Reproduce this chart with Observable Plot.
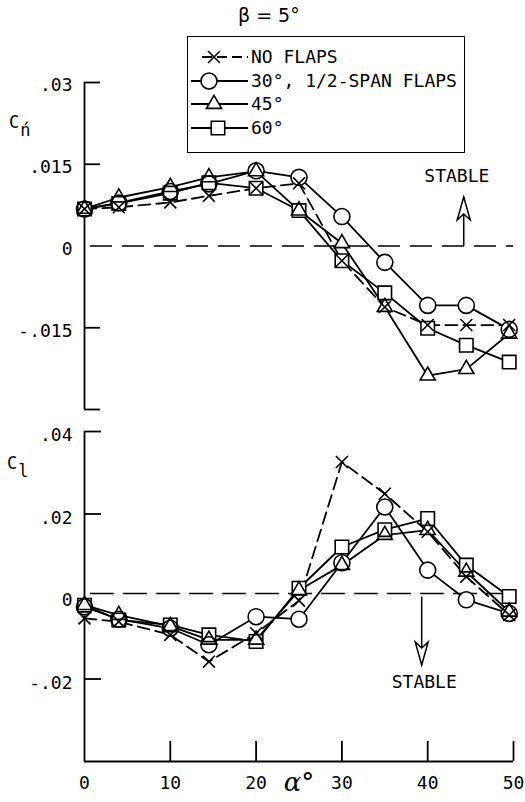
<!DOCTYPE html>
<html>
<head>
<meta charset="utf-8">
<script src="https://cdn.jsdelivr.net/npm/d3@7"></script>
<script src="https://cdn.jsdelivr.net/npm/@observablehq/plot@0.6"></script>
<style>
  body { margin: 0; background: #fff; }
  #fig { position: relative; width: 525px; height: 802px; background: #fff; color: #000;
         font-family: "DejaVu Sans Mono", monospace; }
  #fig > .panel { position: absolute; left: 0; }
  .legend { position: absolute; left: 187px; top: 36px; width: 276px; height: 115px;
            border: 1.6px solid #000; background: #fff; }
  .legend .row { position: absolute; left: 0; height: 22px; display: flex; align-items: center; }
  .legend .row svg { display: block; }
  .legend .row span { font-size: 18px; line-height: 22px; margin-left: 1px; white-space: pre; }
  .title { position: absolute; left: 238px; top: 4px; font-size: 19px; font-family: "DejaVu Sans", sans-serif; }
  .ylab { position: absolute; font-size: 17px; line-height: 17px; }
  .ylab sub { font-size: 17px; vertical-align: -8px; margin-left: 1px; }
</style>
</head>
<body>
<div id="fig"></div>
<script>
// Angle of attack, degrees (shared by all configurations)
const alpha = [0, 4, 10, 14.5, 20, 25, 30, 35, 40, 44.5, 49.5];

// Configurations
const seriesNames = ["NO FLAPS", "30°, 1/2-SPAN FLAPS", "45°", "60°"];

// Yawing-moment coefficient Cn, beta = 5 deg
const cnNoFlaps = [0.0068, 0.0071, 0.0080, 0.0092, 0.0106, 0.0115, -0.0027, -0.0112, -0.0145, -0.0145, -0.0145];
const cnFlaps30 = [0.0068, 0.0079, 0.0100, 0.0114, 0.0138, 0.0126, 0.0054, -0.0030, -0.0109, -0.0109, -0.0153];
const cnFlaps45 = [0.0068, 0.0089, 0.0108, 0.0126, 0.0137, 0.0065, 0.0005, -0.0112, -0.0238, -0.0226, -0.0161];
const cnFlaps60 = [0.0068, 0.0078, 0.0097, 0.0116, 0.0106, 0.0065, -0.0027, -0.0086, -0.0151, -0.0182, -0.0213];

// Rolling-moment coefficient Cl, beta = 5 deg
const clNoFlaps = [-0.0053, -0.0061, -0.0093, -0.0158, -0.0089, -0.0010, 0.0326, 0.0249, 0.0157, 0.0048, -0.0045];
const clFlaps30 = [-0.0025, -0.0055, -0.0077, -0.0117, -0.0049, -0.0055, 0.0082, 0.0217, 0.0064, -0.0008, -0.0041];
const clFlaps45 = [-0.0021, -0.0045, -0.0072, -0.0105, -0.0105, 0.0015, 0.0076, 0.0149, 0.0161, 0.0060, -0.0037];
const clFlaps60 = [-0.0021, -0.0057, -0.0069, -0.0093, -0.0109, 0.0020, 0.0120, 0.0162, 0.0189, 0.0076, 0.0000];

// Axis ticks and their labels
const xTicks = [0, 10, 20, 30, 40, 50];
const cnTicks = [0.03, 0.015, 0, -0.015, -0.03];
const cnTickLabels = [".03", ".015", "0", "-.015", ""];
const clTicks = [0.04, 0.02, 0, -0.02];
const clTickLabels = [".04", ".02", "0", "-.02"];

// "STABLE" direction annotations
const cnStable = [{alpha: 44.2, from: 0, to: 0.0090, textAlpha: 43.4, textAt: 0.0128, text: "STABLE"}];
const clStable = [{alpha: 39.3, from: 0, to: -0.0166, textAlpha: 39.6, textAt: -0.0209, text: "STABLE"}];

// ---- styling ----
const FONT = "DejaVu Sans Mono, monospace";
const W = 525, ML = 84, MR = 12;
const plotW = W - ML - MR;
const styles = [
  {symbol: "times", r: 5.5, dash: "12,6", hollow: false},
  {symbol: "circle", r: 8, dash: null, hollow: true},
  {symbol: "triangle", r: 5.6, dash: null, hollow: true},
  {symbol: "square", r: 7.6, dash: null, hollow: true}
];

function toRows(valueLists) {
  return valueLists.map((vals, i) =>
    vals.map((v, j) => ({alpha: alpha[j], value: v, series: seriesNames[i]})));
}

// open arrowhead with a notched base, tip at the origin
const arrowHead = {
  draw(ctx) {
    ctx.moveTo(0, 0);
    ctx.lineTo(-6.5, 23);
    ctx.lineTo(0, 17);
    ctx.lineTo(6.5, 23);
    ctx.closePath();
  }
};

function seriesMarks(groups) {
  const lines = groups.map((rows, i) => Plot.line(rows, {
    x: "alpha", y: "value", stroke: "#000", strokeWidth: 1.8,
    strokeDasharray: styles[i].dash ?? undefined
  }));
  const fills = groups.map((rows, i) => styles[i].hollow ? Plot.dot(rows, {
    x: "alpha", y: "value", symbol: styles[i].symbol, r: styles[i].r, fill: "#fff", stroke: "none"
  }) : null).filter(Boolean);
  const outlines = groups.map((rows, i) => Plot.dot(rows, {
    x: "alpha", y: "value", symbol: styles[i].symbol, r: styles[i].r,
    fill: "none", stroke: "#000", strokeWidth: 1.6
  }));
  return [...lines, ...fills, ...outlines];
}

function stableMarks(ann, down) {
  return [
    Plot.link(ann, {x1: "alpha", x2: "alpha", y1: "from", y2: "to", stroke: "#000", strokeWidth: 1.5}),
    Plot.dot(ann, {x: "alpha", y: "to", symbol: arrowHead, r: 5, fill: "#fff", stroke: "#000",
                   strokeWidth: 1.5, rotate: down ? 180 : 0}),
    Plot.text(ann, {x: "textAlpha", y: "textAt", text: "text", fontSize: 18, fontFamily: FONT, fill: "#000"})
  ];
}

const fig = d3.select("#fig");

// ---- upper panel: Cn ----
const topH = 415, topMT = 82, topMB = 6;
const cnPlot = Plot.plot({
  width: W, height: topH,
  marginLeft: ML, marginRight: MR, marginTop: topMT, marginBottom: topMB,
  style: {fontFamily: FONT, fontSize: "18px", background: "transparent", color: "#000"},
  x: {domain: [0, 50], axis: null},
  y: {domain: [-0.03, 0.03], axis: null},
  marks: [
    Plot.ruleX([0], {stroke: "#000", strokeWidth: 1.8}),
    Plot.tickY(cnTicks.filter(d => d !== 0), {y: d => d, stroke: "#000", strokeWidth: 1.8, insetRight: plotW - 16}),
    Plot.axisY({ticks: cnTicks, tickFormat: d => cnTickLabels[cnTicks.indexOf(d)], tickSize: 0, tickPadding: 12,
                fontSize: 18, fontFamily: FONT, dy: 3, label: null}),
    Plot.ruleY([0], {stroke: "#000", strokeWidth: 1.5, strokeDasharray: "22,10", insetLeft: 6}),
    ...stableMarks(cnStable, false),
    ...seriesMarks(toRows([cnNoFlaps, cnFlaps30, cnFlaps45, cnFlaps60]))
  ]
});
fig.append(() => cnPlot).attr("class", "panel").style("top", "0px");

// ---- lower panel: Cl ----
const botTop = 415, botH = 802 - botTop, botMT = 16, botMB = 41;
const plotH = botH - botMT - botMB;
const clPlot = Plot.plot({
  width: W, height: botH,
  marginLeft: ML, marginRight: MR, marginTop: botMT, marginBottom: botMB,
  style: {fontFamily: FONT, fontSize: "18px", background: "transparent", color: "#000"},
  x: {domain: [0, 50]},
  y: {domain: [-0.04, 0.04]},
  marks: [
    Plot.ruleX([0], {stroke: "#000", strokeWidth: 1.8}),
    Plot.ruleY([-0.04], {stroke: "#000", strokeWidth: 1.8}),
    Plot.tickY(clTicks.filter(d => d !== 0), {y: d => d, stroke: "#000", strokeWidth: 1.8, insetRight: plotW - 17}),
    Plot.tickX(xTicks.filter(d => d !== 0), {x: d => d, stroke: "#000", strokeWidth: 1.8, insetTop: plotH - 20}),
    Plot.axisY({ticks: clTicks, tickFormat: d => clTickLabels[clTicks.indexOf(d)], tickSize: 0, tickPadding: 12,
                fontSize: 18, fontFamily: FONT, dy: 4, label: null}),
    Plot.axisX({ticks: xTicks, tickFormat: d => String(d), tickSize: 0, tickPadding: 15,
                fontSize: 18, fontFamily: FONT, label: null}),
    Plot.text(["α°"], {x: () => 25, frameAnchor: "bottom", dy: 29, text: d => d,
                       fontSize: 26, fontStyle: "italic", fontFamily: "DejaVu Serif, serif", fill: "#000"}),
    Plot.ruleY([0], {stroke: "#000", strokeWidth: 1.5, strokeDasharray: "24,9", insetLeft: 6, dy: -3}),
    ...stableMarks(clStable, true),
    ...seriesMarks(toRows([clNoFlaps, clFlaps30, clFlaps45, clFlaps60]))
  ]
});
fig.append(() => clPlot).attr("class", "panel").style("top", botTop + "px");

// ---- axis titles ----
fig.append("div").attr("class", "ylab").style("left", "9px").style("top", "114px")
  .html("C<sub>ń</sub>");
fig.append("div").attr("class", "ylab").style("left", "7px").style("top", "455px")
  .html("C<sub>l</sub>");

// ---- heading ----
fig.append("div").attr("class", "title").text("β = 5°");

// ---- legend ----
const legend = fig.append("div").attr("class", "legend");
styles.forEach((s, i) => {
  const row = legend.append("div").attr("class", "row").style("top", (9 + i * 23.7) + "px");
  const svg = row.append("svg").attr("width", 62).attr("height", 22);
  const sx = [26, 21, 26, 30][i];
  svg.append("line").attr("x1", i === 0 ? 14 : 3).attr("x2", 60).attr("y1", 11).attr("y2", 11)
    .attr("stroke", "#000").attr("stroke-width", 1.8)
    .attr("stroke-dasharray", s.dash ? "10,5" : null);
  const symType = {times: d3.symbolTimes, circle: d3.symbolCircle, triangle: d3.symbolTriangle, square: d3.symbolSquare}[s.symbol];
  svg.append("path").attr("transform", `translate(${sx},11)`)
    .attr("d", d3.symbol(symType, Math.PI * s.r * s.r)())
    .attr("fill", s.hollow ? "#fff" : "none").attr("stroke", "#000").attr("stroke-width", 1.6);
  row.append("span").text(seriesNames[i]);
});
</script>
</body>
</html>
